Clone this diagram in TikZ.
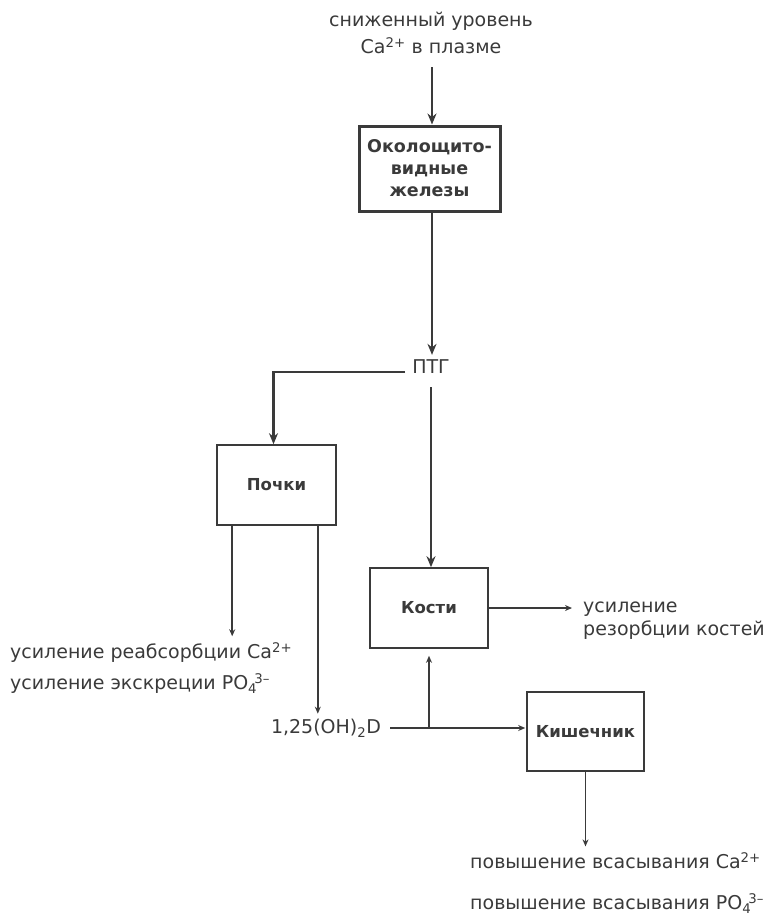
\documentclass[tikz,border=0pt]{standalone}
\usepackage{fontspec}
\setmainfont{DejaVu Sans}
\usetikzlibrary{arrows.meta}
\definecolor{ink}{HTML}{3A3A3A}
\tikzset{
  box/.style={draw=ink, rectangle, inner sep=0pt, line width=1.6pt, text=ink,
              font=\fontsize{16.5}{22}\selectfont\bfseries, align=center},
  lbl/.style={text=ink, inner sep=3pt, font=\fontsize{19}{27}\selectfont},
  bigarrow/.style={draw=ink, line width=2.6pt, -{Stealth[length=11pt,width=9pt]}},
  smallarrow/.style={draw=ink, line width=1.6pt, -{Stealth[length=7pt,width=6pt]}},
  plainline/.style={draw=ink, line width=1.6pt}
}
\begin{document}
\begin{tikzpicture}[x=1pt,y=-1pt]
\useasboundingbox (0,0) rectangle (775,919);
% nodes
\node[lbl, align=center] (top) at (431,33) {сниженный уровень\\Ca\textsuperscript{2+} в плазме};
\node[box, line width=3pt, minimum width=141pt, minimum height=85pt,
      font=\fontsize{17.5}{22}\selectfont\bfseries] (para) at (429.5,168.5)
   {Околощито-\\видные\\железы};
\node[lbl] (ptg) at (431,367) {ПТГ};
\node[box, minimum width=119pt, minimum height=80pt] (kid) at (276.5,485) {Почки};
\node[box, minimum width=118pt, minimum height=80pt] (bones) at (429,608) {Кости};
\node[box, minimum width=117pt, minimum height=79pt] (int) at (585.5,731.5) {Кишечник};
\node[lbl, anchor=west, align=left, font=\fontsize{19}{31}\selectfont] (reabs) at (7,668)
   {усиление реабсорбции Ca\textsuperscript{2+}\\усиление экскреции PO\textsubscript{4}\kern-0.15em\textsuperscript{3–}};
\node[lbl] (vitd) at (326,728) {1,25(OH)\textsubscript{2}D};
\node[lbl, anchor=west, align=left, font=\fontsize{19}{23}\selectfont] (res) at (580,621)
   {усиление\\резорбции костей};
\node[lbl, anchor=west, align=left, font=\fontsize{19}{41}\selectfont] (bot) at (467,883)
   {повышение всасывания Ca\textsuperscript{2+}\\повышение всасывания PO\textsubscript{4}\kern-0.15em\textsuperscript{3–}};
\coordinate (j) at (vitd.east -| bones.south);
% connectors
\draw[bigarrow, shorten <=10pt] (top.south -| 432,0) -- (para.north -| 432,0);
\draw[bigarrow, shorten >=2pt] (para.south -| 432,0) -- (ptg.north -| 432,0);
\draw[bigarrow, line width=2.4pt, shorten <=4pt] ([yshift=-5pt]ptg.west) -| ([xshift=-3pt]kid.north);
\draw[bigarrow, line width=2.4pt, shorten <=10pt] (ptg.south) -- (ptg.south |- bones.north);
\draw[smallarrow, shorten >=3pt] ([xshift=16pt]kid.south west) -- ([xshift=16pt]kid.south west |- reabs.north);
\draw[smallarrow, shorten >=2pt] ([xshift=-19pt]kid.south east) -- ([xshift=-19pt]kid.south east |- vitd.north);
\draw[smallarrow, shorten <=6pt, shorten >=1pt] (vitd.east) -- (vitd.east -| int.west);
\draw[smallarrow, shorten >=7pt] (j) -- (bones.south);
\draw[smallarrow, shorten >=8pt] (bones.east) -- (bones.east -| res.west);
\draw[smallarrow, shorten >=3pt] (int.south) -- (int.south |- bot.north);
\end{tikzpicture}
\end{document}
